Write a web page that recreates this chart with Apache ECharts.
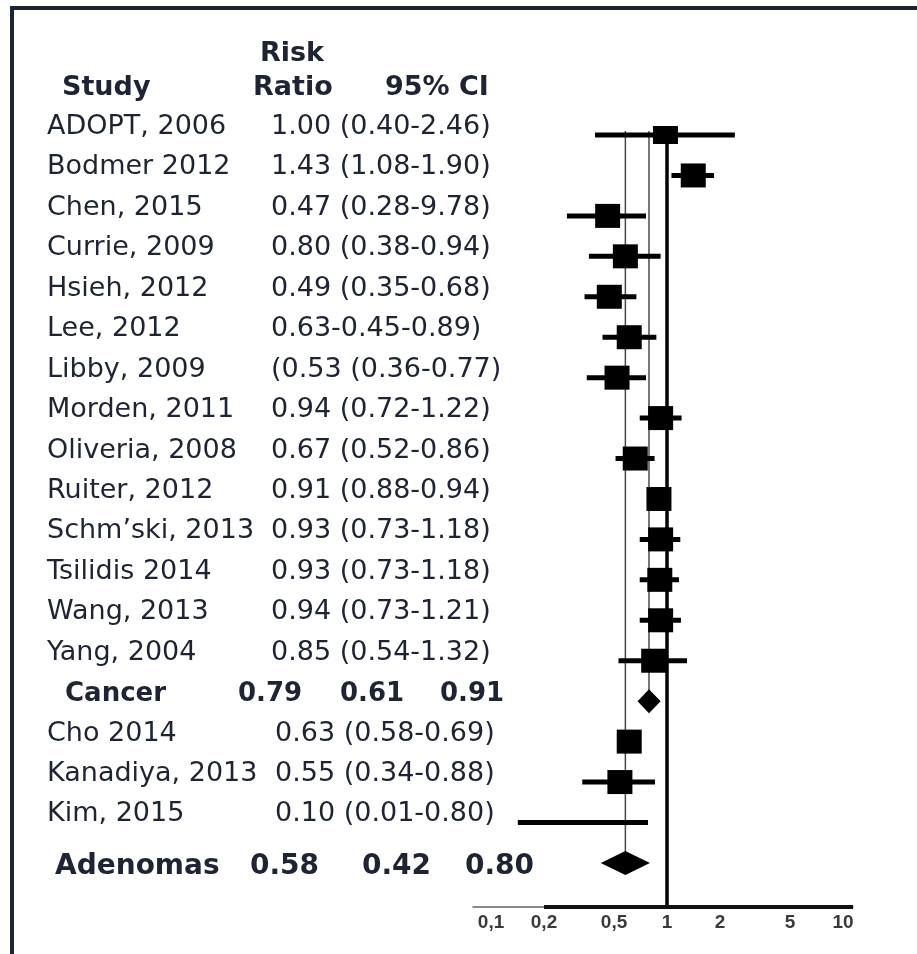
<!DOCTYPE html>
<html><head><meta charset="utf-8">
<script src="https://cdn.jsdelivr.net/npm/echarts@6/dist/echarts.min.js"></script>
<style>html,body{margin:0;padding:0;background:#fff}#c{width:917px;height:954px}</style>
</head><body><div id="c"></div>
<script>
// ---------- data ----------
const studyNames = ['ADOPT, 2006','Bodmer 2012','Chen, 2015','Currie, 2009','Hsieh, 2012','Lee, 2012','Libby, 2009',
  'Morden, 2011','Oliveria, 2008','Ruiter, 2012','Schm\u2019ski, 2013','Tsilidis 2014','Wang, 2013','Yang, 2004',
  'Cancer','Cho 2014','Kanadiya, 2013','Kim, 2015','Adenomas'];
const statTexts = ['1.00 (0.40-2.46)','1.43 (1.08-1.90)','0.47 (0.28-9.78)','0.80 (0.38-0.94)','0.49 (0.35-0.68)',
  '0.63-0.45-0.89)','(0.53 (0.36-0.77)','0.94 (0.72-1.22)','0.67 (0.52-0.86)','0.91 (0.88-0.94)','0.93 (0.73-1.18)',
  '0.93 (0.73-1.18)','0.94 (0.73-1.21)','0.85 (0.54-1.32)','','0.63 (0.58-0.69)','0.55 (0.34-0.88)','0.10 (0.01-0.80)',''];
const pooledRows = [14, 18];
const pooledStats = [['0.79','0.61','0.91'], ['0.58','0.42','0.80']];
// values as drawn in the picture
const estimates = [0.98,1.41,0.46,0.58,0.47,0.61,0.52,0.92,0.66,0.90,0.92,0.91,0.92,0.84,null,0.61,0.54,null,null];
const ciLow  = [0.39,1.06,0.27,0.36,0.34,0.43,0.35,0.70,0.51,0.88,0.70,0.70,0.70,0.53,null,0.58,0.33,0.142,null];
const ciHigh = [2.43,1.85,0.76,0.92,0.67,0.87,0.76,1.21,0.85,0.94,1.19,1.17,1.20,1.30,null,0.69,0.855,0.78,null];
const pooledEst  = [0.79, 0.58];
const pooledLow  = [0.68, 0.42];
const pooledHigh = [0.92, 0.80];
const nullLine = 1;
const tickValues = [0.1, 0.2, 0.5, 1, 2, 5, 10];
const tickLabels = ['0,1','0,2','0,5','1','2','5','10'];
const headerTop = 'Risk';
const headerCols = ['Study','Ratio','95% CI'];

// ---------- layout ----------
const X_MIN = 0.079, X_MAX = 11.4, Y_MIN = -0.5, Y_MAX = 19.09;
const AXIS_THICK_FROM = 0.2;
const TXT = '#1e2433';
const FONT = '"DejaVu Sans", sans-serif';

const ciData = [];
const estData = [];
studyNames.forEach((n, i) => {
  if (ciLow[i] != null) ciData.push([i, ciLow[i], ciHigh[i]]);
  if (estimates[i] != null) estData.push([estimates[i], i]);
});
const diamondData = pooledRows.map((r, k) => [r, pooledEst[k], pooledLow[k], pooledHigh[k]]);

function tickLabel(v) {
  for (let k = 0; k < tickValues.length; k++) {
    if (Math.abs(Math.log10(v) - Math.log10(tickValues[k])) < 1e-6) return tickLabels[k];
  }
  return '';
}

const option = {
  animation: false,
  backgroundColor: '#ffffff',
  grid: { left: 473, right: 64, top: 114.8, bottom: 47 },
  xAxis: {
    type: 'log', logBase: 10, min: X_MIN, max: X_MAX,
    axisLine: { show: true, onZero: false, lineStyle: { color: '#666', width: 1.5 } },
    axisTick: { show: false },
    splitLine: { show: false },
    axisLabel: {
      customValues: tickValues, formatter: v => tickLabel(v),
      color: '#3a3a3a', fontFamily: '"Liberation Sans", Arial, sans-serif', fontWeight: 'bold', fontSize: 19, margin: 6
    }
  },
  yAxis: { type: 'value', inverse: true, min: Y_MIN, max: Y_MAX, show: false },
  series: [
    { type: 'line', symbol: 'none', clip: false, z: 2,
      data: [[pooledEst[0], -0.1], [pooledEst[0], pooledRows[0]]],
      lineStyle: { color: '#4a4a4a', width: 1.5 } },
    { type: 'line', symbol: 'none', clip: false, z: 2,
      data: [[pooledEst[1], -0.1], [pooledEst[1], pooledRows[1]]],
      lineStyle: { color: '#4a4a4a', width: 1.5 } },
    { type: 'line', symbol: 'none', clip: false, z: 3,
      data: [[nullLine, 0], [nullLine, Y_MAX]],
      lineStyle: { color: '#000', width: 3.5 } },
    { type: 'line', symbol: 'none', clip: false, z: 3,
      data: [[AXIS_THICK_FROM, Y_MAX], [X_MAX, Y_MAX]],
      lineStyle: { color: '#111', width: 4 } },
    { type: 'custom', z: 4, data: ciData, encode: { x: [1, 2], y: 0 },
      renderItem: (params, api) => {
        const r = api.value(0);
        const a = api.coord([api.value(1), r]);
        const b = api.coord([api.value(2), r]);
        return { type: 'line', shape: { x1: a[0], y1: a[1], x2: b[0], y2: b[1] },
                 style: { stroke: '#000', lineWidth: 5 } };
      } },
    { type: 'scatter', z: 5, data: estData, symbol: 'rect',
      symbolSize: (val) => val[1] === 0 ? [25, 18] : [25, 24],
      itemStyle: { color: '#000', opacity: 1 } },
    { type: 'custom', z: 5, data: diamondData, encode: { x: [1, 2, 3], y: 0 },
      renderItem: (params, api) => {
        const r = api.value(0);
        const c = api.coord([api.value(1), r]);
        const l = api.coord([api.value(2), r]);
        const h = api.coord([api.value(3), r]);
        const hh = 12;
        return { type: 'polygon',
          shape: { points: [[l[0], c[1]], [c[0], c[1] - hh], [h[0], c[1]], [c[0], c[1] + hh]] },
          style: { fill: '#000' } };
      } }
  ]
};

const chart = echarts.init(document.getElementById('c'));
chart.setOption(option);

const yPix = i => chart.convertToPixel({ yAxisIndex: 0 }, i);
const txt = (s, x, y, font) => ({ type: 'text', x: x, y: y, z: 10,
  style: { text: s, fill: TXT, font: font, align: 'left', verticalAlign: 'middle' } });

const g = [];
g.push({ type: 'polyline', z: 10, shape: { points: [[12, 954], [12, 8], [917, 8]] },
         style: { stroke: '#1c2536', lineWidth: 4, fill: null } });
g.push(txt(headerTop, 260, 54, 'bold 27px ' + FONT));
g.push(txt(headerCols[0], 62, 88, 'bold 27px ' + FONT));
g.push(txt(headerCols[1], 253, 88, 'bold 27px ' + FONT));
g.push(txt(headerCols[2], 385, 88, 'bold 27px ' + FONT));

studyNames.forEach((n, i) => {
  const y = yPix(i);
  const p = pooledRows.indexOf(i);
  if (p === 0) {
    const f = 'bold 26px ' + FONT;
    g.push(txt(n, 65, y - 7, f));
    g.push(txt(pooledStats[0][0], 238, y - 7, f));
    g.push(txt(pooledStats[0][1], 340, y - 7, f));
    g.push(txt(pooledStats[0][2], 440, y - 7, f));
  } else if (p === 1) {
    const f = 'bold 28px ' + FONT;
    g.push(txt(n, 55, y + 4, f));
    g.push(txt(pooledStats[1][0], 250, y + 4, f));
    g.push(txt(pooledStats[1][1], 362, y + 4, f));
    g.push(txt(pooledStats[1][2], 465, y + 4, f));
  } else {
    const f = '27px ' + FONT;
    g.push(txt(n, 47, y - 8, f));
    g.push(txt(statTexts[i], i > 14 ? 275 : 271, y - 8, f));
  }
});
chart.setOption({ graphic: g });
</script>
</body></html>
